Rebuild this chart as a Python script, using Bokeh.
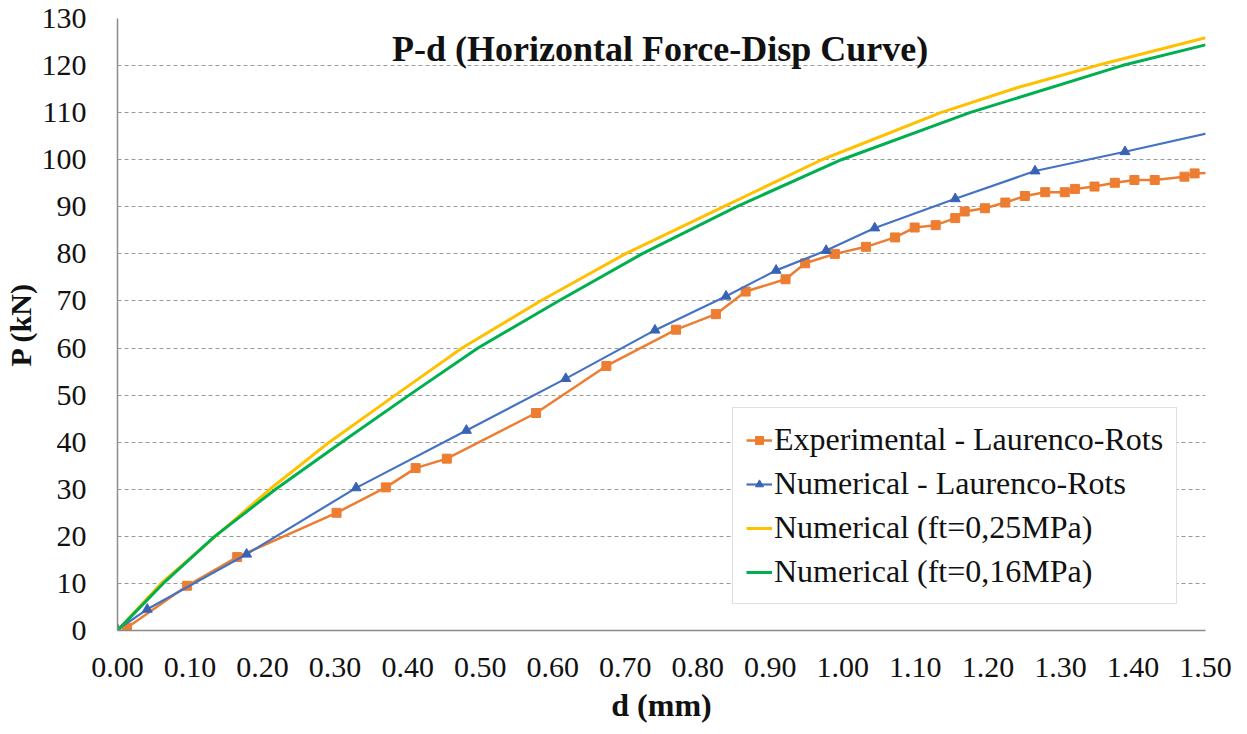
from bokeh.plotting import figure
from bokeh.models import (Legend, LegendItem, FixedTicker, NumeralTickFormatter,
                          Range1d, Label)
from bokeh.embed import file_html
from bokeh.resources import INLINE

# ---------------- data ----------------
exp_d = [0.013, 0.096, 0.165, 0.302, 0.370, 0.411, 0.454, 0.577, 0.674, 0.770,
         0.825, 0.866, 0.921, 0.948, 0.989, 1.032, 1.072, 1.099, 1.128, 1.155,
         1.168, 1.196, 1.224, 1.251, 1.279, 1.306, 1.320, 1.347, 1.375, 1.402,
         1.430, 1.471, 1.485, 1.520]
exp_P = [0.6, 9.5, 15.6, 25.0, 30.4, 34.5, 36.5, 46.2, 56.2, 63.9,
         67.2, 72.0, 74.6, 78.0, 80.0, 81.5, 83.5, 85.6, 86.1, 87.6,
         89.0, 89.7, 90.9, 92.3, 93.1, 93.1, 93.8, 94.3, 95.1, 95.7,
         95.7, 96.4, 97.1, 97.3]

num_d = [0.0, 0.041, 0.178, 0.329, 0.481, 0.618, 0.741, 0.839, 0.908, 0.977,
         1.044, 1.155, 1.265, 1.389, 1.520]
num_P = [0.2, 4.5, 16.2, 30.3, 42.5, 53.5, 63.8, 71.0, 76.5, 80.7,
         85.5, 91.7, 97.6, 101.7, 106.2]

ft25_d = [0.0, 0.060, 0.135, 0.210, 0.292, 0.383, 0.475, 0.583, 0.700, 0.835,
          0.971, 1.135, 1.240, 1.350, 1.5]
ft25_P = [0.0, 10.0, 20.0, 30.0, 40.0, 50.0, 60.0, 70.0, 80.0, 90.0,
          100.0, 110.0, 115.3, 120.0, 125.9]

ft16_d = [0.0, 0.063, 0.134, 0.218, 0.309, 0.402, 0.497, 0.608, 0.723, 0.853,
          0.998, 1.175, 1.385, 1.5]
ft16_P = [0.0, 10.0, 20.0, 30.0, 40.0, 50.0, 60.0, 70.0, 80.0, 90.0,
          100.0, 110.0, 120.0, 124.4]

x_ticks = [0.0, 0.1, 0.2, 0.3, 0.4, 0.5, 0.6, 0.7, 0.8, 0.9, 1.0, 1.1, 1.2, 1.3, 1.4, 1.5]
y_ticks = [0, 10, 20, 30, 40, 50, 60, 70, 80, 90, 100, 110, 120, 130]

labels = ["Experimental - Laurenco-Rots", "Numerical - Laurenco-Rots",
          "Numerical (ft=0,25MPa)", "Numerical (ft=0,16MPa)"]
title_text = "P-d (Horizontal Force-Disp Curve)"

FONT = "Liberation Serif"
ORANGE = "#ED7D31"
BLUE = "#4472C4"
BLUE_MK = "#3A62B4"
YELLOW = "#FFC000"
GREEN = "#00B050"

p = figure(frame_width=1088, frame_height=612,
           min_border_left=110, min_border_right=30, min_border_top=18,
           min_border_bottom=100,
           x_range=Range1d(0, 1.5), y_range=Range1d(0, 130),
           output_backend="svg", toolbar_location=None)
p.outline_line_color = None
p.background_fill_color = "white"

# grid
p.xgrid.grid_line_color = None
p.ygrid.grid_line_color = "#9A9A9A"
p.ygrid.grid_line_dash = "4 3"
p.ygrid.grid_line_width = 1

# axes
for ax in (p.xaxis[0], p.yaxis[0]):
    ax.axis_line_color = "#8C8C8C"
    ax.axis_line_width = 1.5
    ax.major_tick_line_color = None
    ax.minor_tick_line_color = None
    ax.major_label_text_font = FONT
    ax.major_label_text_font_size = "30px"
    ax.major_label_text_color = "#111111"
    ax.axis_label_text_font = FONT
    ax.axis_label_text_font_style = "bold"
    ax.axis_label_text_color = "#111111"

p.xaxis.ticker = FixedTicker(ticks=x_ticks)
p.xaxis.formatter = NumeralTickFormatter(format="0.00")
p.xaxis.major_label_standoff = 21
p.xaxis.axis_label = "d (mm)"
p.xaxis.axis_label_text_font_size = "32px"
p.xaxis.axis_label_standoff = 7

p.yaxis.ticker = FixedTicker(ticks=y_ticks)
p.yaxis.major_label_standoff = 25
p.yaxis.axis_label = "P (kN)"
p.yaxis.axis_label_text_font_size = "30px"
p.yaxis.axis_label_standoff = 2

# series
l_exp = p.line(exp_d, exp_P, line_color=ORANGE, line_width=2.5)
s_exp = p.scatter(exp_d, exp_P, marker="square", size=9,
                  fill_color=ORANGE, line_color=ORANGE)
l_num = p.line(num_d, num_P, line_color=BLUE, line_width=2.2)
s_num = p.scatter(num_d, num_P, marker="triangle", size=10,
                  fill_color=BLUE_MK, line_color=BLUE_MK)
l_25 = p.line(ft25_d, ft25_P, line_color=YELLOW, line_width=3)
l_16 = p.line(ft16_d, ft16_P, line_color=GREEN, line_width=3)

legend = Legend(items=[
    LegendItem(label=labels[0], renderers=[l_exp, s_exp]),
    LegendItem(label=labels[1], renderers=[l_num, s_num]),
    LegendItem(label=labels[2], renderers=[l_25]),
    LegendItem(label=labels[3], renderers=[l_16]),
], location=(615, 26))
legend.label_text_font = FONT
legend.label_text_font_size = "32px"
legend.label_text_color = "#111111"
legend.glyph_width = 26
legend.glyph_height = 20
legend.label_height = 37
legend.label_standoff = 2
legend.spacing = 7
legend.padding = 13
legend.margin = 0
legend.border_line_color = "#BFBFBF"
legend.border_line_width = 1.5
legend.background_fill_color = "white"
legend.background_fill_alpha = 1
p.add_layout(legend)

title = Label(x=0.748, y=123.5, text=title_text, text_font=FONT,
              text_font_size="36px", text_font_style="bold",
              text_align="center", text_baseline="middle",
              text_color="#111111")
p.add_layout(title)

open("out.html", "w").write(file_html(p, INLINE))
